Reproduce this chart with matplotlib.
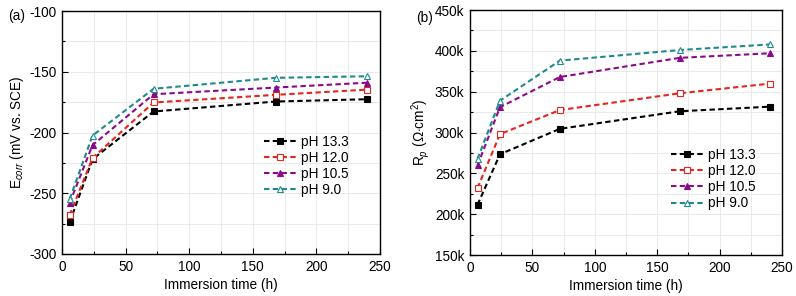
import matplotlib
matplotlib.use("Agg")
import matplotlib.pyplot as plt
from matplotlib.ticker import MultipleLocator, FuncFormatter

plt.rcParams['font.family'] = ['Liberation Sans', 'DejaVu Sans']
plt.rcParams['mathtext.fontset'] = 'custom'
plt.rcParams['mathtext.rm'] = 'Liberation Sans'
plt.rcParams['mathtext.it'] = 'Liberation Sans:italic'
plt.rcParams['axes.unicode_minus'] = False

time_h = [6, 24, 72, 168, 240]
labels = ['pH 13.3', 'pH 12.0', 'pH 10.5', 'pH 9.0']

ecorr_133 = [-274, -222, -182.7, -174.5, -172.6]
ecorr_120 = [-268, -221, -175.3, -169, -164.7]
ecorr_105 = [-258, -210.4, -168.5, -163, -159]
ecorr_90 = [-254.8, -202.5, -164, -155, -153.7]

rp_133 = [211.5, 273.4, 304.5, 326, 331.6]   # kOhm cm2
rp_120 = [232, 298, 327.5, 348, 359.8]
rp_105 = [259.8, 331, 368, 391.4, 397]
rp_90 = [267.6, 339, 388, 401, 407.8]

colors = ['#000000', '#e3261f', '#8b0a8b', '#1f8a8c']
markers = ['s', 's', '^', '^']
fills = [True, False, True, False]

fig = plt.figure(figsize=(7.96, 2.96), dpi=100)
ax1 = fig.add_axes([0.0779, 0.1419, 0.3995, 0.8209])
ax2 = fig.add_axes([0.5905, 0.1385, 0.3919, 0.8277])

fs = 9.8

def style(ax):
    ax.set_xlim(0, 250)
    ax.xaxis.set_major_locator(MultipleLocator(50))
    ax.xaxis.set_minor_locator(MultipleLocator(25))
    ax.tick_params(which='both', direction='in', top=False, right=False, labelsize=fs)
    ax.tick_params(which='major', length=4, width=0.8, pad=4)
    ax.tick_params(which='minor', length=2, width=0.8)
    ax.grid(True, which='both', color='#e6e6e6', linewidth=0.6)
    ax.set_axisbelow(True)
    for s in ax.spines.values():
        s.set_linewidth(1.0)
    ax.set_xlabel('Immersion time (h)', fontsize=fs, labelpad=3)

def plot_series(ax, ys):
    for y, c, m, f, lab in zip(ys, colors, markers, fills, labels):
        ax.plot(time_h, y, linestyle=(0, (2.6, 1.6)), linewidth=1.5, color=c,
                marker=m, markersize=4.8, markerfacecolor=c if f else 'white',
                markeredgecolor=c, markeredgewidth=0.8, label=lab)

plot_series(ax1, [ecorr_133, ecorr_120, ecorr_105, ecorr_90])
style(ax1)
ax1.set_ylim(-300, -100)
ax1.yaxis.set_major_locator(MultipleLocator(50))
ax1.yaxis.set_minor_locator(MultipleLocator(25))
ax1.set_ylabel(r'E$_{corr}$ (mV vs. SCE)', fontsize=fs, labelpad=2)
ax1.legend(loc='upper left', bbox_to_anchor=(0.605, 0.53), frameon=False, fontsize=fs,
           handlelength=2.4, handletextpad=0.3, labelspacing=0.15, borderpad=0.2)
fig.text(0.010, 0.945, '(a)', fontsize=fs, va='center', ha='left')

plot_series(ax2, [rp_133, rp_120, rp_105, rp_90])
style(ax2)
ax2.set_ylim(150, 450)
ax2.yaxis.set_major_locator(MultipleLocator(50))
ax2.yaxis.set_minor_locator(MultipleLocator(25))
ax2.yaxis.set_major_formatter(FuncFormatter(lambda v, p: f'{int(v)}k'))
ax2.set_ylabel(r'R$_p$ ($\Omega$$\cdot$cm$^2$)', fontsize=fs, labelpad=2)
ax2.legend(loc='upper left', bbox_to_anchor=(0.614, 0.475), frameon=False, fontsize=fs,
           handlelength=2.4, handletextpad=0.3, labelspacing=0.15, borderpad=0.2)
fig.text(0.523, 0.94, '(b)', fontsize=fs, va='center', ha='left')

fig.savefig('out.png', dpi=100)
